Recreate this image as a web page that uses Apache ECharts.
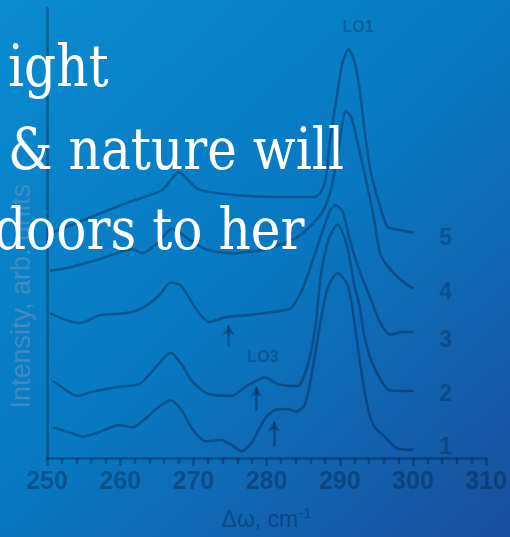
<!DOCTYPE html>
<html><head><meta charset="utf-8">
<script src="https://cdn.jsdelivr.net/npm/echarts@6/dist/echarts.min.js"></script>
<style>html,body{margin:0;padding:0;overflow:hidden;}#c{width:510px;height:537px;}</style>
</head><body><div id="c"></div>
<script>
const xTicks = [250, 260, 270, 280, 290, 300, 310];
const spectrum1 = [[250.8,6.8],[252.7,5.9],[254.9,4.8],[256.7,5.5],[259.9,7.3],[261.7,6.8],[263.5,8.8],[264.9,10.9],[266.9,12.8],[268.4,10.6],[269.8,6.6],[271.6,3.7],[273.8,4.0],[275.2,2.9],[276.6,1.5],[277.9,3.3],[279.8,8.8],[281.1,10.6],[282.9,10.9],[284.0,10.3],[285.2,11.7],[286.0,17.1],[287.0,26.7],[288.3,37.6],[289.7,41.1],[291.1,38.3],[292.0,30.2],[292.8,20.8],[293.8,11.4],[294.7,7.0],[296.1,4.8],[297.8,2.2],[300.1,1.8]];
const spectrum2 = [[250.8,17.1],[251.8,16.0],[254.1,13.8],[256.2,14.7],[259.9,15.8],[262.6,16.4],[264.4,19.3],[266.9,23.4],[268.4,20.8],[269.8,17.1],[272.1,14.2],[275.2,13.8],[277.1,15.8],[279.8,17.9],[281.6,16.4],[284.3,16.0],[285.2,18.6],[286.0,23.0],[286.7,29.5],[287.4,40.5],[288.3,47.7],[289.0,50.5],[289.7,51.9],[291.0,47.1],[292.0,38.3],[292.7,33.9],[293.4,26.7],[294.7,20.1],[296.5,15.3],[297.8,14.9],[300.1,14.9]];
const spectrum3 = [[250.4,32.2],[252.7,30.6],[254.5,30.0],[257.2,31.7],[260.8,32.2],[263.0,33.3],[265.3,36.1],[266.9,39.0],[268.3,38.3],[270.3,33.3],[272.1,30.2],[274.4,31.3],[277.1,31.7],[280.6,32.4],[283.3,33.3],[284.7,36.8],[285.6,40.5],[286.4,44.4],[287.4,49.2],[288.7,55.1],[289.4,56.2],[290.4,54.7],[291.5,47.7],[292.8,41.1],[294.2,35.5],[295.5,30.2],[296.9,27.4],[298.5,28.0],[300.1,28.0]];
const spectrum4 = [[250.4,41.6],[252.7,42.2],[257.2,44.2],[261.7,46.4],[263.0,45.5],[265.3,48.1],[267.1,51.0],[269.4,48.6],[271.7,46.4],[275.2,45.5],[279.8,46.4],[284.3,49.2],[287.4,54.1],[288.7,59.1],[289.7,67.4],[290.4,74.8],[290.8,77.2],[291.5,75.9],[292.0,73.3],[292.8,67.4],[293.8,60.2],[294.7,53.0],[295.5,45.5],[296.5,42.7],[298.2,39.8],[300.1,37.6]];
const spectrum5 = [[250.4,49.9],[257.2,54.3],[261.2,56.9],[265.7,59.5],[268.0,63.5],[270.7,59.7],[276.1,58.4],[281.2,58.0],[286.6,58.0],[287.9,60.8],[288.7,71.1],[289.7,81.4],[290.4,88.0],[291.2,90.8],[292.0,88.2],[292.7,82.1],[293.4,72.7],[294.2,63.9],[295.4,56.5],[296.5,51.4],[297.8,50.8],[300.1,50.1]];
const spectrumLabels = [[304.45,2.3,'1'],[304.45,14.0,'2'],[304.45,26.0,'3'],[304.45,36.7,'4'],[304.45,48.8,'5']];
const peakLabels = [[292.5,95.7,'LO1'],[279.5,22.4,'LO3']];
const arrows = [[274.8,24.7,29.5],[278.6,10.5,15.8],[281.0,2.6,8.1]];
const overlayLines = ['ight', '& nature will', 'doors to her'];

const ink = 'rgba(0,25,60,0.36)';
const chart = echarts.init(document.getElementById('c'));
const spectra = [spectrum1, spectrum2, spectrum3, spectrum4, spectrum5];
const series = spectra.map(d => ({
  type: 'line', data: d, showSymbol: false, symbol: 'none', smooth: 0.25,
  lineStyle: {color: ink, width: 2.6}, silent: true, z: 3
}));
series.push({
  type: 'scatter', symbolSize: 0, silent: true, z: 4,
  data: spectrumLabels,
  label: {show: true, position: 'inside', formatter: p => p.data[2], color: ink,
    fontSize: 23, fontWeight: 'bold', fontFamily: 'Liberation Sans, Arial, sans-serif'}
});
series.push({
  type: 'scatter', symbolSize: 0, silent: true, z: 4,
  data: peakLabels,
  label: {show: true, position: 'inside', formatter: p => p.data[2], color: ink,
    fontSize: 16, fontWeight: 'bold', fontFamily: 'Liberation Sans, Arial, sans-serif'},
  markLine: {
    silent: true, symbol: ['none', 'arrow'], symbolSize: [9, 10],
    label: {show: false},
    lineStyle: {color: ink, width: 2.6, type: 'solid'},
    data: arrows.map(a => [{coord: [a[0], a[1]]}, {coord: [a[0], a[2]]}])
  }
});

const serif = 'DejaVu Serif, serif';
chart.setOption({
  animation: false,
  backgroundColor: {type: 'linear', x: 0, y: 0, x2: 1, y2: 1,
    colorStops: [{offset: 0, color: '#0a8bd0'}, {offset: 0.5, color: '#0878c2'}, {offset: 1, color: '#1a4e9c'}]},
  grid: {left: 47, right: 20, top: 8, bottom: 72},
  xAxis: {
    type: 'value', min: xTicks[0], max: xTicks[xTicks.length - 1], interval: 10,
    axisLine: {show: true, lineStyle: {color: ink, width: 2.6}},
    axisTick: {show: true, length: 8, lineStyle: {color: ink, width: 2.6}},
    minorTick: {show: true, splitNumber: 5, length: 6, lineStyle: {color: ink, width: 2.4}},
    splitLine: {show: false},
    axisLabel: {color: ink, fontSize: 25, fontWeight: 'bold', margin: 12,
      fontFamily: 'Liberation Sans, Arial, sans-serif'},
    name: 'Δω, cm{sup|-1}', nameLocation: 'middle', nameGap: 48,
    nameTextStyle: {color: ink, fontSize: 23, fontFamily: 'Liberation Sans, Arial, sans-serif',
      rich: {sup: {fontSize: 15, verticalAlign: 'top', padding: [0, 0, 14, 0], color: ink}}}
  },
  yAxis: {
    type: 'value', min: 0, max: 100,
    axisLine: {show: true, lineStyle: {color: ink, width: 2.6}},
    axisTick: {show: false}, axisLabel: {show: false}, splitLine: {show: false}
  },
  graphic: [
    {type: 'text', left: 9, top: 184, rotation: Math.PI / 2, silent: true,
      style: {text: 'Intensity, arb. units', fill: 'rgba(110,150,185,0.55)', fontSize: 27,
        fontFamily: 'Liberation Sans, Arial, sans-serif'}, z: 2},
    {type: 'text', x: 8, y: 100, scaleX: 0.88, silent: true, z: 10,
      style: {text: overlayLines[0], fill: '#ffffff', fontSize: 57, fontFamily: serif, verticalAlign: 'bottom'}},
    {type: 'text', x: 8, y: 183, scaleX: 0.88, silent: true, z: 10,
      style: {text: overlayLines[1], fill: '#ffffff', fontSize: 57, fontFamily: serif, verticalAlign: 'bottom'}},
    {type: 'text', x: -6, y: 263, scaleX: 0.88, silent: true, z: 10,
      style: {text: overlayLines[2], fill: '#ffffff', fontSize: 57, fontFamily: serif, verticalAlign: 'bottom'}}
  ],
  series: series
});
</script></body></html>
